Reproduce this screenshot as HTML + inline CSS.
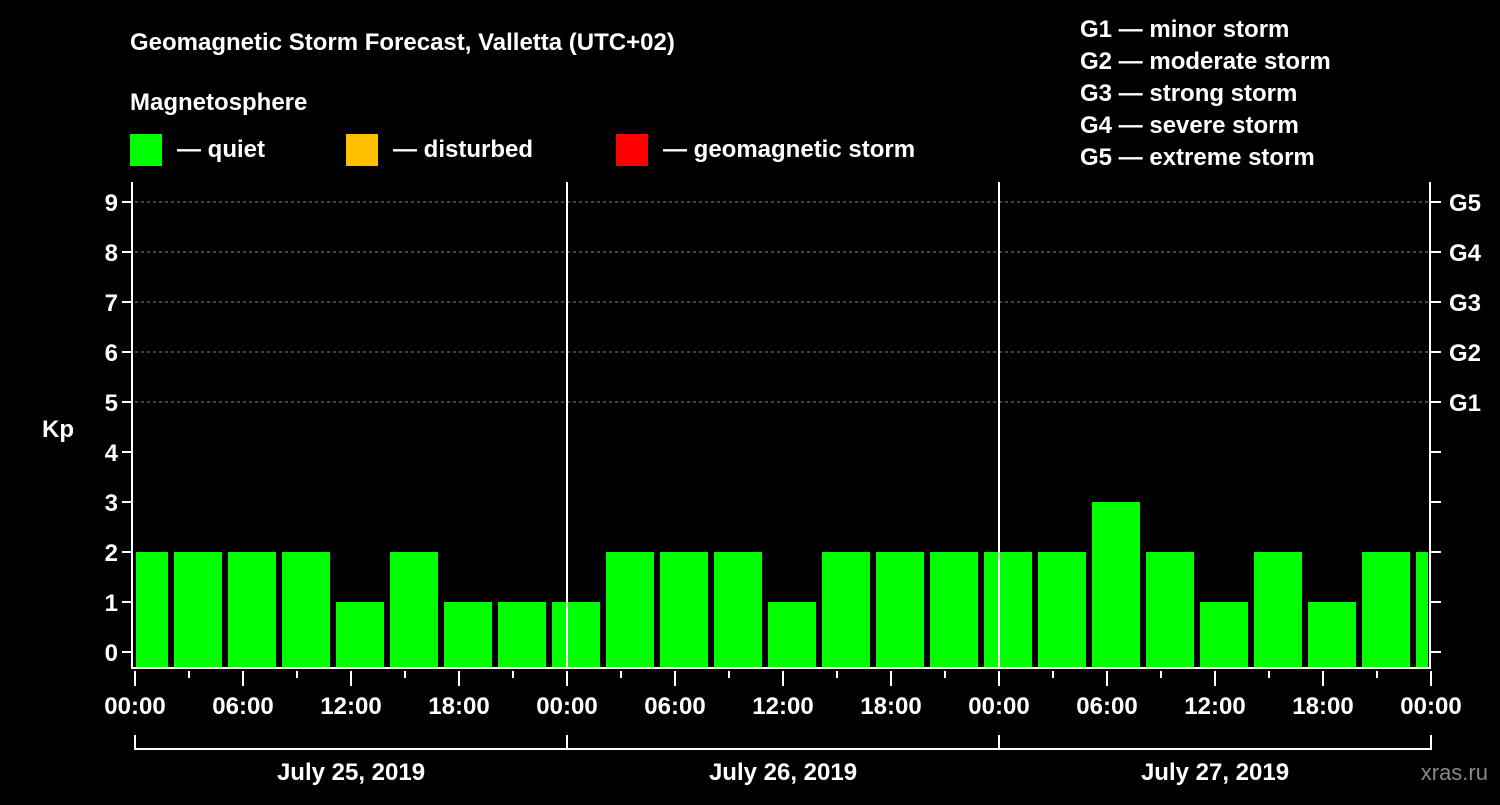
<!DOCTYPE html>
<html><head><meta charset="utf-8"><style>
body{margin:0;background:#000;width:1500px;height:800px;overflow:hidden}
svg text{font-family:"Liberation Sans",Arial,sans-serif;font-weight:bold;fill:#fff}
</style></head><body>
<svg id="c" width="1500" height="800">
<text x="130" y="50" font-size="24">Geomagnetic Storm Forecast, Valletta (UTC+02)</text>
<text x="130" y="110" font-size="24">Magnetosphere</text>
<g><rect x="130" y="134" width="32" height="32" fill="#00ff00"/><text x="177" y="157" font-size="24">— quiet</text></g>
<g><rect x="346" y="134" width="32" height="32" fill="#ffc000"/><text x="393" y="157" font-size="24">— disturbed</text></g>
<g><rect x="616" y="134" width="32" height="32" fill="#ff0000"/><text x="663" y="157" font-size="24">— geomagnetic storm</text></g>
<g font-size="24">
<text x="1080" y="37">G1 — minor storm</text>
<text x="1080" y="69">G2 — moderate storm</text>
<text x="1080" y="101">G3 — strong storm</text>
<text x="1080" y="133">G4 — severe storm</text>
<text x="1080" y="165">G5 — extreme storm</text>
</g>
<text x="42" y="437" font-size="24">Kp</text>
<text x="1488" y="780" font-size="22" text-anchor="end" style="fill:#888;font-weight:normal">xras.ru</text>
<g id="grid"></g><g id="bars"></g><g id="axes"></g>
</svg>
<script>
const kpValues=[2,2,2,2,1,2,1,1,1,2,2,2,1,2,2,2,2,2,3,2,1,2,1,2,2];
const yTicks=[0,1,2,3,4,5,6,7,8,9];
const gLabels=["G1","G2","G3","G4","G5"];
const timeLabels=["00:00","06:00","12:00","18:00","00:00","06:00","12:00","18:00","00:00","06:00","12:00","18:00","00:00"];
const dayLabels=["July 25, 2019","July 26, 2019","July 27, 2019"];
const NS="http://www.w3.org/2000/svg";
const X0=135,PX_H=18,Y0=652,PX_K=50,TOP=182,BOT=668,RIGHT=1430;
const xs=h=>X0+h*PX_H, ys=k=>Y0-k*PX_K;
function mk(tag,attrs,parent){const e=document.createElementNS(NS,tag);for(const k in attrs)e.setAttribute(k,attrs[k]);document.getElementById(parent).appendChild(e);return e;}
yTicks.forEach(k=>{
 if(k>=5){const l=mk('line',{x1:X0,x2:RIGHT,y1:ys(k),y2:ys(k),stroke:'#888','stroke-dasharray':'3,3','stroke-width':1},'grid');
 
 }
});
kpValues.forEach((v,i)=>{
 const c=xs(3*i+0.5);let x1=Math.max(c-24,X0+1),x2=Math.min(c+24,RIGHT-2);
 const col=v>=5?'#ff0000':(v>=4?'#ffc000':'#00ff00');
 const r=mk('rect',{x:x1,y:ys(v),width:x2-x1,height:BOT-ys(v),fill:col},'bars');
 
 
});
const W='#fff';
const f=mk('path',{d:`M${X0-3} ${TOP}V${BOT}H${RIGHT}V${TOP}`,stroke:W,'stroke-width':2,fill:'none'},'axes');


[1,2].forEach(d=>{const l=mk('line',{x1:xs(24*d),x2:xs(24*d),y1:TOP,y2:BOT,stroke:W,'stroke-width':2},'axes');
 
 });
yTicks.forEach(k=>{
 mk('line',{x1:X0-13,x2:X0-3,y1:ys(k),y2:ys(k),stroke:W,'stroke-width':2},'axes');
 mk('line',{x1:RIGHT,x2:RIGHT+11,y1:ys(k),y2:ys(k),stroke:W,'stroke-width':2},'axes');
 const t=mk('text',{x:118,y:ys(k)+9,'font-size':24,'text-anchor':'end'},'axes');t.textContent=k;
 
 
 if(k>=5){const g=mk('text',{x:1449,y:ys(k)+9,'font-size':24},'axes');g.textContent=gLabels[k-5];
 
 }
});
for(let h=0;h<=72;h+=3){
 mk('line',{x1:xs(h),x2:xs(h),y1:671,y2:h%6==0?686:678,stroke:W,'stroke-width':2},'axes');
}
timeLabels.forEach((s,i)=>{const t=mk('text',{x:xs(6*i),y:714,'font-size':24,'text-anchor':'middle'},'axes');t.textContent=s;
 
 });
mk('path',{d:`M${xs(0)} 735V749H${xs(72)}V735M${xs(24)} 735V749M${xs(48)} 735V749`,stroke:W,'stroke-width':2,fill:'none'},'axes');
dayLabels.forEach((s,i)=>{const t=mk('text',{x:xs(24*i+12),y:780,'font-size':24,'text-anchor':'middle'},'axes');t.textContent=s;
 
 });
</script>
</body></html>
